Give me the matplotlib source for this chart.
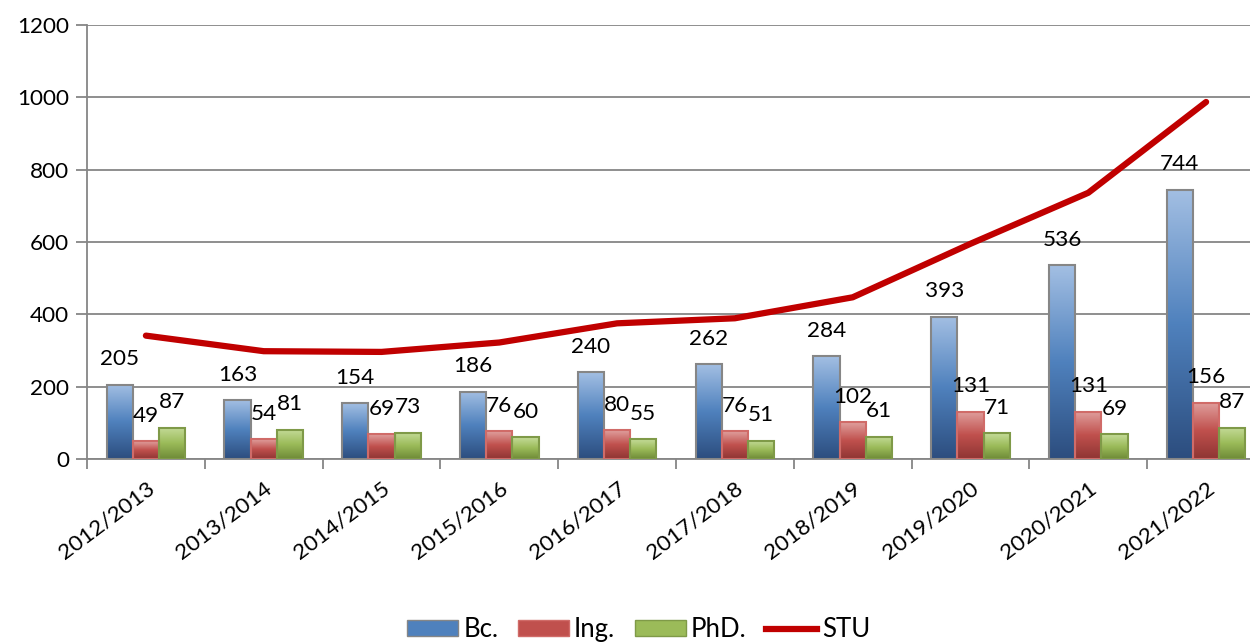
import numpy as np
import matplotlib.pyplot as plt
from matplotlib.colors import LinearSegmentedColormap
from matplotlib.patches import Patch
from matplotlib.lines import Line2D

plt.rcParams['font.family'] = ['Lato', 'DejaVu Sans']

years = ['2012/2013', '2013/2014', '2014/2015', '2015/2016', '2016/2017',
         '2017/2018', '2018/2019', '2019/2020', '2020/2021', '2021/2022']
bc = [205, 163, 154, 186, 240, 262, 284, 393, 536, 744]
ing = [49, 54, 69, 76, 80, 76, 102, 131, 131, 156]
phd = [87, 81, 73, 60, 55, 51, 61, 71, 69, 87]
stu = [341, 298, 296, 322, 375, 389, 447, 595, 736, 987]

# gradient colours (top, mid, bottom) and edge per series
styles = {
    'Bc.': (['#a3bfe3', '#4f81bd', '#2c4d7e'], '#868686'),
    'Ing.': (['#e0a09e', '#c0504d', '#8e3533'], '#d06b68'),
    'PhD.': (['#c5dc9a', '#9bbb59', '#6e8a37'], '#7f9a48'),
}
fs = 16.2

fig = plt.figure(figsize=(12.5, 6.44), dpi=100)
ax = fig.add_axes([0.0696, 0.2873, 0.9424, 0.674])

x = np.arange(len(years))
w = 1 / 4.5
grad = np.linspace(1, 0, 256).reshape(-1, 1)

for k, (name, vals) in enumerate([('Bc.', bc), ('Ing.', ing), ('PhD.', phd)]):
    cols, edge = styles[name]
    cmap = LinearSegmentedColormap.from_list(name, cols[::-1])
    bars = ax.bar(x + (k - 1) * w, vals, w, facecolor='none', edgecolor=edge,
                  linewidth=1.5, zorder=3)
    for b, v in zip(bars, vals):
        x0 = b.get_x()
        im = ax.imshow(grad, cmap=cmap, extent=(x0, x0 + w, 0, v),
                       aspect='auto', zorder=2.5, vmin=0, vmax=1)
        im.set_clip_path(b)
        ax.annotate(str(v), (b.get_x() + w / 2, v), xytext=(0, 14),
                    textcoords='offset points', ha='center', va='baseline',
                    fontsize=fs, zorder=5)

ax.plot(x, stu, color='#c00000', linewidth=4.5, solid_capstyle='round', zorder=4)

ax.set_xlim(-0.5, len(years) - 0.5)
ax.set_ylim(0, 1200)
ax.set_yticks(range(0, 1201, 200))
ax.grid(axis='y', color='#868686', linewidth=1.3, zorder=0)
ax.set_axisbelow(True)

ax.set_xticks(np.arange(-0.5, len(years), 1), minor=False)
ax.set_xticklabels([])
ax.set_xticks(x, minor=True)
ax.set_xticklabels(years, minor=True, rotation=37, ha='right',
                   rotation_mode='anchor', fontsize=fs)
ax.tick_params(axis='x', which='minor', length=0, pad=14)
ax.tick_params(axis='x', which='major', length=7, color='#868686', width=1.3)
ax.tick_params(axis='y', length=8, color='#868686', width=1.3, labelsize=fs, pad=5)

for s in ['top', 'right']:
    ax.spines[s].set_visible(False)
for s in ['left', 'bottom']:
    ax.spines[s].set_color('#868686')
    ax.spines[s].set_linewidth(1.3)

handles = [Patch(facecolor='#4f81bd', edgecolor='#868686', label='Bc.'),
           Patch(facecolor='#c0504d', edgecolor='#d06b68', label='Ing.'),
           Patch(facecolor='#9bbb59', edgecolor='#7f9a48', label='PhD.'),
           Line2D([0], [0], color='#c00000', linewidth=4.5, label='STU')]
fig.legend(handles=handles, loc='center', bbox_to_anchor=(0.511, 0.022),
           ncol=4, frameon=False, fontsize=18.5, handlelength=2.0,
           handleheight=0.6, handletextpad=0.2, columnspacing=0.75,
           borderpad=0)

fig.savefig('out.png', dpi=100)
